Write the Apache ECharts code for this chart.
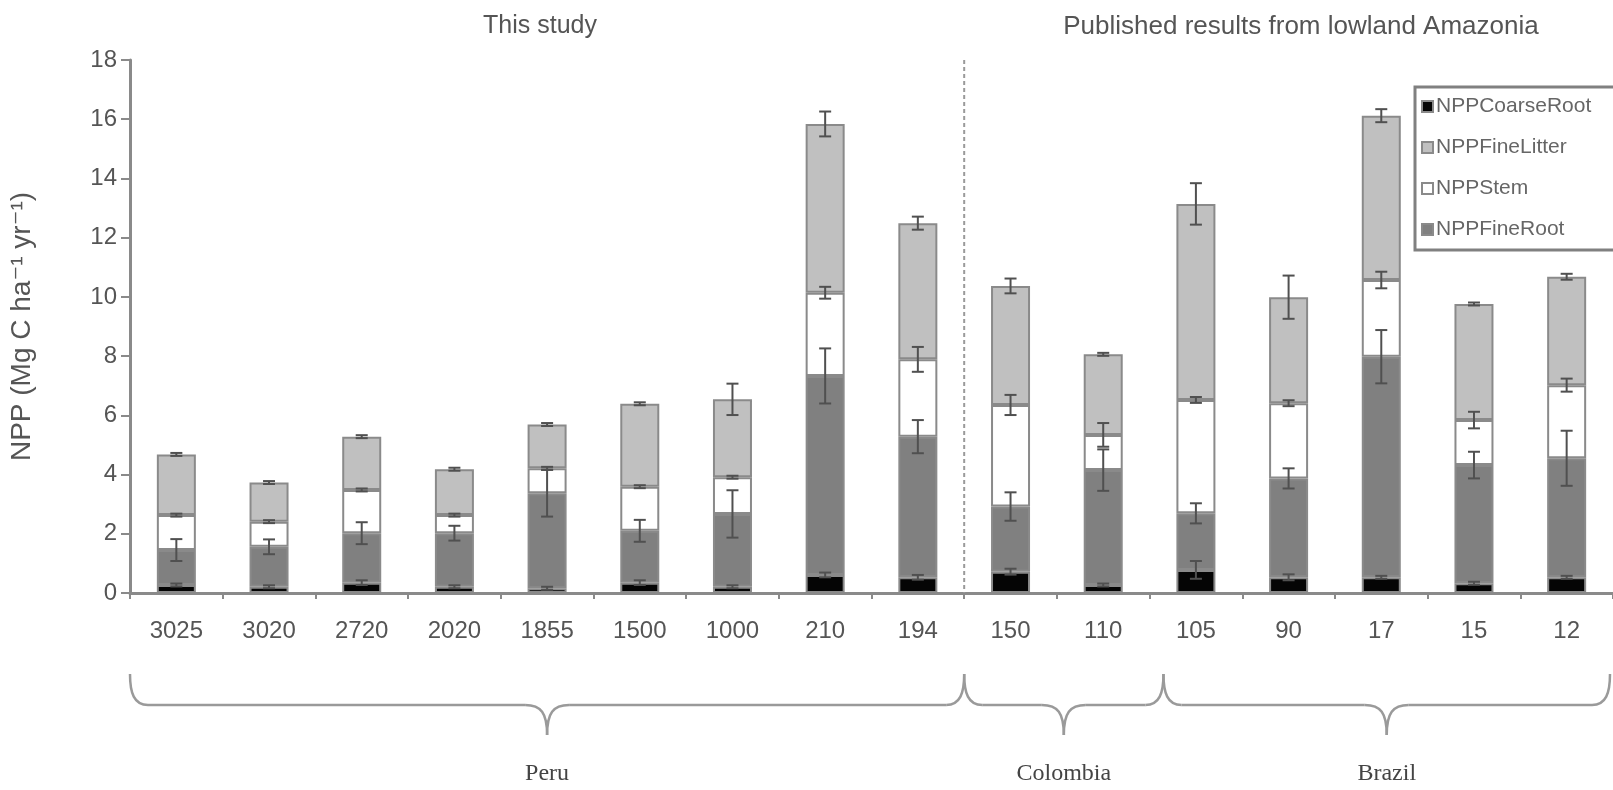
<!DOCTYPE html>
<html>
<head>
<meta charset="utf-8">
<script src="https://cdn.jsdelivr.net/npm/echarts@6/dist/echarts.min.js"></script>
<style>html,body{margin:0;padding:0;background:#fff;}#main{width:1613px;height:790px;}</style>
</head>
<body>
<div id="main"></div>
<script>
const categories = ['3025','3020','2720','2020','1855','1500','1000','210','194','150','110','105','90','17','15','12'];
const coarseRoot = [0.27,0.21,0.35,0.21,0.16,0.35,0.21,0.61,0.53,0.72,0.27,0.78,0.53,0.53,0.33,0.53];
const fineRoot   = [1.18,1.35,1.67,1.81,3.21,1.75,2.46,6.72,4.75,2.20,3.88,1.91,3.34,7.45,3.99,4.02];
const stem       = [1.18,0.85,1.46,0.61,0.84,1.49,1.24,2.81,2.61,3.43,1.19,3.83,2.54,2.59,1.52,2.47];
const fineLitter = [2.05,1.32,1.80,1.55,1.48,2.80,2.63,5.70,4.60,4.02,2.72,6.62,3.58,5.55,3.92,3.66];
const coarseErr  = [0.05,0.05,0.08,0.05,0.05,0.08,0.05,0.08,0.08,0.10,0.05,0.30,0.10,0.05,0.05,0.05];
const fineErr    = [0.37,0.25,0.37,0.25,0.79,0.37,0.80,0.93,0.56,0.48,0.70,0.34,0.34,0.90,0.45,0.93];
const stemErr    = [0.05,0.05,0.05,0.05,0.05,0.05,0.05,0.20,0.42,0.34,0.40,0.10,0.10,0.28,0.28,0.22];
const litterErr  = [0.05,0.05,0.05,0.05,0.05,0.05,0.53,0.42,0.22,0.25,0.05,0.70,0.73,0.22,0.05,0.10];
const yTicks = {min: 0, max: 18, interval: 2};
const groupNames = ['Peru', 'Colombia', 'Brazil'];
// brace end positions, in category units (as drawn in the original)
const braceEnds = [-0.5, 8.5, 10.65, 15.5];
const dividerAt = 8.5;
const headers = ['This study', 'Published results from lowland Amazonia'];

// error bar items: [categoryIndex, segmentTop, err]
const errItems = [];
categories.forEach((c, i) => {
  const t1 = coarseRoot[i];
  const t2 = t1 + fineRoot[i];
  const t3 = t2 + stem[i];
  const t4 = t3 + fineLitter[i];
  errItems.push([i, t1, coarseErr[i]]);
  errItems.push([i, t2, fineErr[i]]);
  errItems.push([i, t3, stemErr[i]]);
  errItems.push([i, t4, litterErr[i]]);
});

const sans = '"Liberation Sans", Arial, "DejaVu Sans", sans-serif';
const border = '#8a8a8a';
function barSeries(name, data, color) {
  return {
    name: name, type: 'bar', stack: 'npp', data: data, barWidth: 39,
    itemStyle: {color: color, borderColor: border, borderWidth: 2},
    emphasis: {disabled: true}
  };
}

const chart = echarts.init(document.getElementById('main'));
chart.setOption({
  animation: false,
  backgroundColor: '#fff',
  title: [
    {text: headers[0], left: 535, top: 9, textAlign: 'center',
     textStyle: {fontFamily: sans, fontSize: 25, fontWeight: 'normal', color: '#555'}},
    {text: headers[1], left: 1296, top: 9, textAlign: 'center',
     textStyle: {fontFamily: sans, fontSize: 26, fontWeight: 'normal', color: '#555'}}
  ],
  grid: {left: 128, top: 60, width: 1493, bottom: 197, containLabel: false},
  legend: {
    orient: 'vertical', left: 1415, top: 87,
    data: ['NPPCoarseRoot', 'NPPFineLitter', 'NPPStem', 'NPPFineRoot'],
    icon: 'rect', itemWidth: 11, itemHeight: 11, itemGap: 20,
    padding: [9, 40, 10, 6],
    borderColor: '#808080', borderWidth: 3, backgroundColor: '#fff',
    textStyle: {fontFamily: sans, fontSize: 21, color: '#666', padding: [0, 0, 0, -2]},
    selectedMode: false, z: 10
  },
  xAxis: {
    type: 'category', data: categories,
    axisLine: {lineStyle: {color: border, width: 3}},
    axisTick: {show: true, length: 6, lineStyle: {color: border, width: 2}},
    axisLabel: {fontFamily: sans, fontSize: 24, color: '#555', margin: 26, interval: 0}
  },
  yAxis: {
    type: 'value', min: yTicks.min, max: yTicks.max, interval: yTicks.interval,
    name: 'NPP (Mg C ha\u207B\u00B9 yr\u207B\u00B9)',
    nameLocation: 'middle', nameGap: 94, nameRotate: 90,
    nameTextStyle: {fontFamily: sans, fontSize: 28, color: '#555'},
    axisLine: {show: true, lineStyle: {color: border, width: 3}},
    axisTick: {show: true, length: 9, lineStyle: {color: border, width: 2}},
    axisLabel: {fontFamily: sans, fontSize: 24, color: '#555', margin: 13},
    splitLine: {show: false}
  },
  series: [
    barSeries('NPPCoarseRoot', coarseRoot, '#050505'),
    barSeries('NPPFineRoot', fineRoot, '#808080'),
    barSeries('NPPStem', stem, '#ffffff'),
    barSeries('NPPFineLitter', fineLitter, '#c0c0c0'),
    {
      type: 'custom', name: 'err', data: errItems, z: 5,
      encode: {x: 0, y: 1},
      renderItem: function (params, api) {
        const i = api.value(0), v = api.value(1), e = api.value(2);
        const hi = api.coord([i, v + e]);
        const lo = api.coord([i, v - e]);
        const w = 6;
        const st = {stroke: '#505050', lineWidth: 2};
        return {type: 'group', children: [
          {type: 'line', shape: {x1: hi[0], y1: hi[1], x2: lo[0], y2: lo[1]}, style: st},
          {type: 'line', shape: {x1: hi[0] - w, y1: hi[1], x2: hi[0] + w, y2: hi[1]}, style: st},
          {type: 'line', shape: {x1: lo[0] - w, y1: lo[1], x2: lo[0] + w, y2: lo[1]}, style: st}
        ]};
      }
    }
  ]
});

// annotations derived from the axes
const px0 = chart.convertToPixel({xAxisIndex: 0}, 0);
const band = chart.convertToPixel({xAxisIndex: 0}, 1) - px0;
const catX = u => px0 + u * band;   // fractional category position -> pixel
const py = v => chart.convertToPixel({yAxisIndex: 0}, v);
const y0 = py(0), yTopAxis = py(yTicks.max);
const W = chart.getWidth();
const divX = catX(dividerAt);
const graphics = [{
  type: 'line', z: 3,
  shape: {x1: divX, y1: yTopAxis, x2: divX, y2: y0},
  style: {stroke: '#9a9a9a', lineWidth: 2, lineDash: [4, 3]}
}];
const yT = y0 + 81, yM = y0 + 112, yB = y0 + 142;
const braceStyle = {fill: null, stroke: '#9a9a9a', lineWidth: 2.5};
function curve(x1, y1, c1x, c1y, c2x, c2y, x2, y2) {
  return {type: 'bezierCurve', shape: {x1: x1, y1: y1, cpx1: c1x, cpy1: c1y, cpx2: c2x, cpy2: c2y, x2: x2, y2: y2}, style: braceStyle};
}
function seg(x1, y1, x2, y2) {
  return {type: 'line', shape: {x1: x1, y1: y1, x2: x2, y2: y2}, style: braceStyle};
}
groupNames.forEach((name, k) => {
  const x0 = catX(braceEnds[k]);
  const x1 = Math.min(catX(braceEnds[k + 1]), W - 3);
  const xc = (x0 + x1) / 2;
  graphics.push(curve(x0, yT, x0, yM - 12, x0 + 4, yM, x0 + 18, yM));
  graphics.push(seg(x0 + 18, yM, xc - 22, yM));
  graphics.push(curve(xc - 22, yM, xc - 6, yM, xc, yM + 8, xc, yB));
  graphics.push(curve(xc, yB, xc, yM + 8, xc + 6, yM, xc + 22, yM));
  graphics.push(seg(xc + 22, yM, x1 - 18, yM));
  graphics.push(curve(x1 - 18, yM, x1 - 4, yM, x1, yM - 12, x1, yT));
  graphics.push({type: 'text', x: xc, y: y0 + 181,
    style: {text: name, fontFamily: '"Liberation Serif", "Times New Roman", serif', fontSize: 24,
            fill: '#444', align: 'center', verticalAlign: 'middle'}});
});
chart.setOption({graphic: graphics});
</script>
</body>
</html>
